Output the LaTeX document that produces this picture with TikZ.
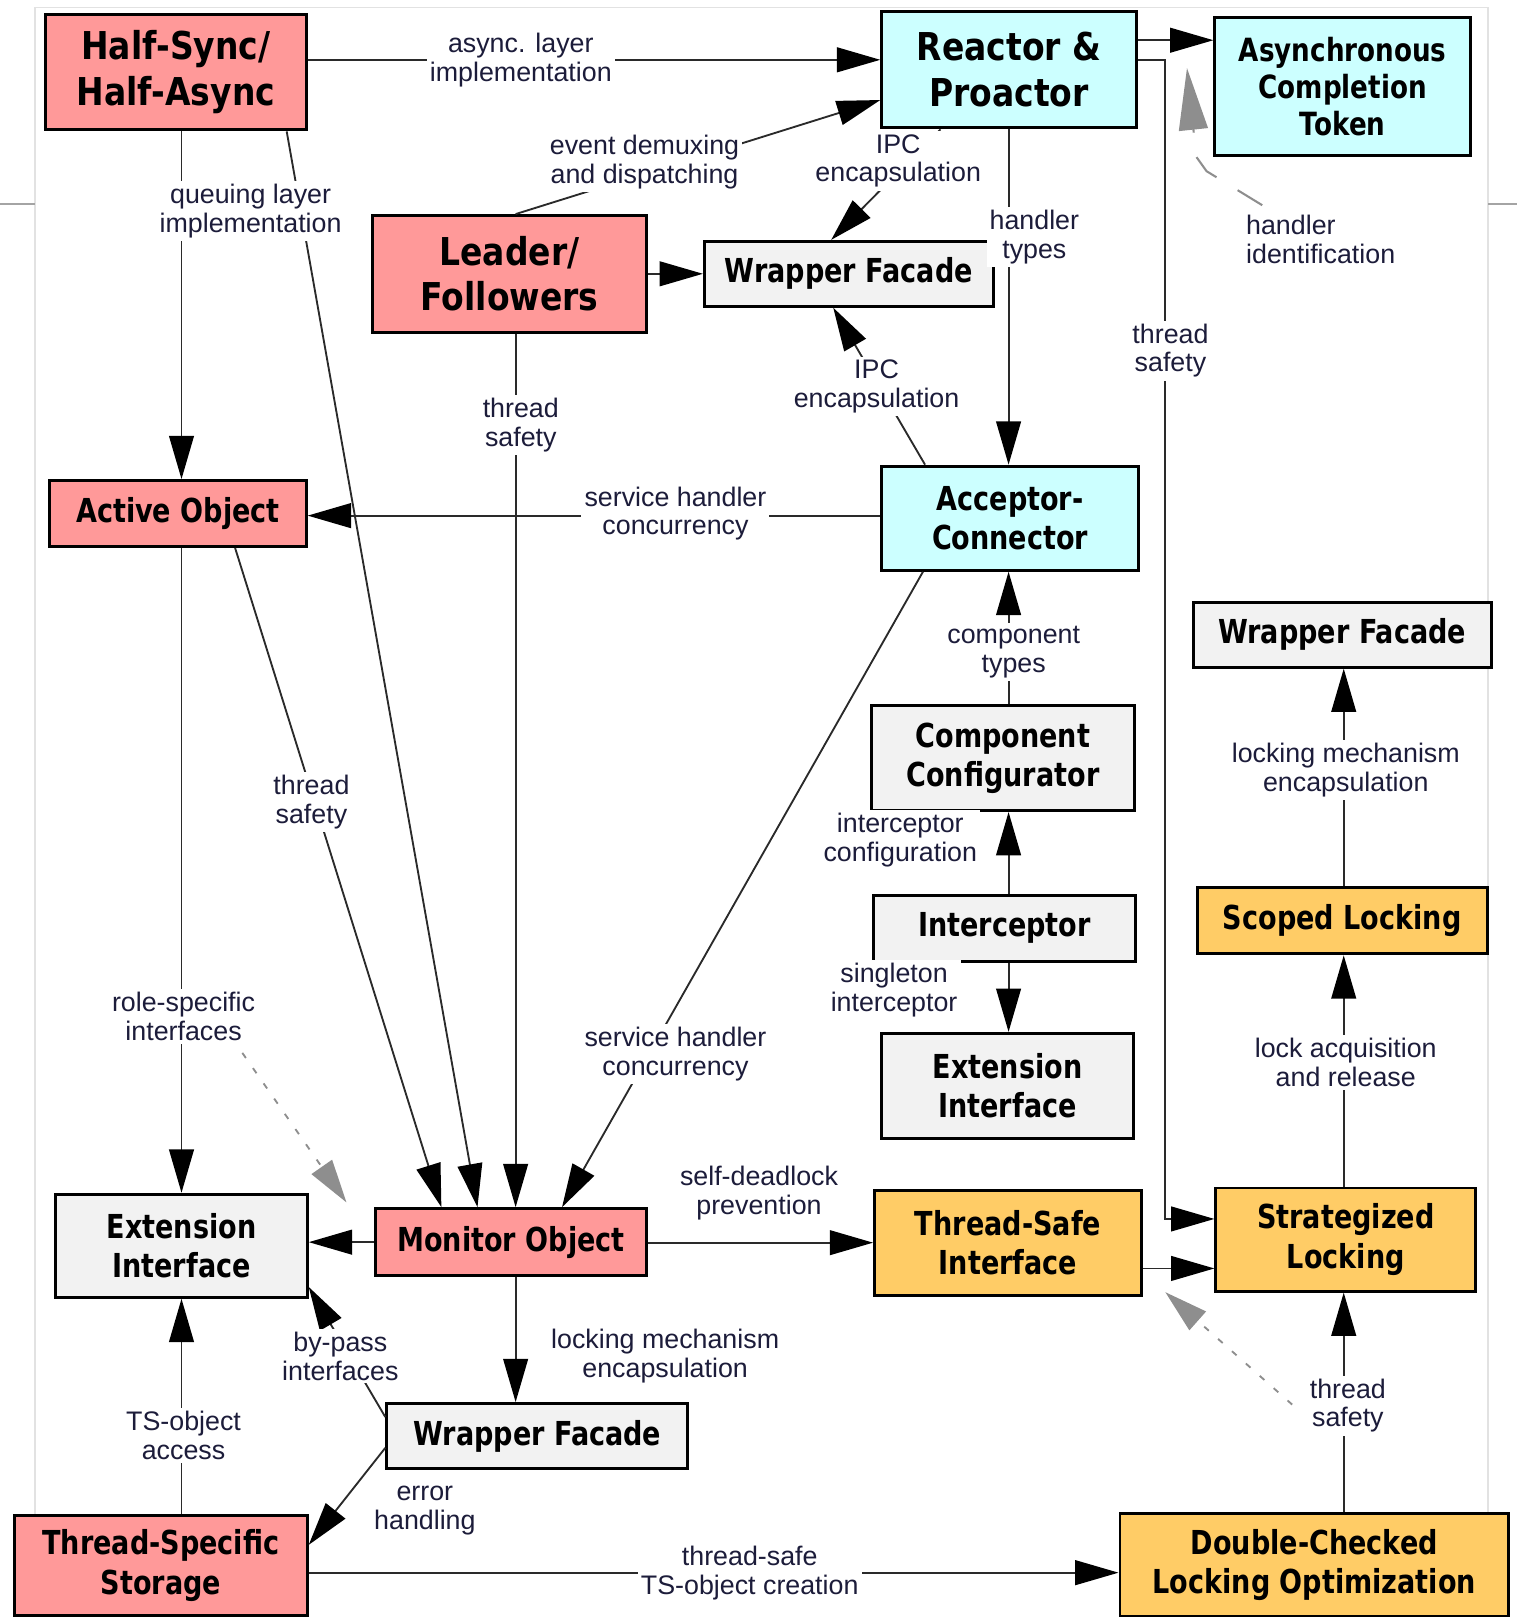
\documentclass[tikz,border=0pt]{standalone}
\usepackage{fontspec}
\setmainfont{Liberation Sans}
\newfontfamily\bigboxfont{DejaVu Sans}[FakeStretch=0.86]
\newfontfamily\boxfont{DejaVu Sans}[FakeStretch=0.82]
\usetikzlibrary{arrows.meta}

\definecolor{pinkfill}{HTML}{FF9999}
\definecolor{cyanfill}{HTML}{CCFFFF}
\definecolor{grayfill}{HTML}{F2F2F2}
\definecolor{orangefill}{HTML}{FFCC66}
\definecolor{linkcol}{HTML}{2A2A2A}
\definecolor{labelcol}{HTML}{1C1C3A}
\definecolor{hintcol}{HTML}{8E8E8E}
\definecolor{framecol}{HTML}{E2E2E2}

\tikzset{
  box/.style={draw=black, line width=1.4pt, inner sep=0pt, align=center,
    font=\boxfont\bfseries\fontsize{16}{19}\selectfont},
  bigbox/.style={box, font=\bigboxfont\bfseries\fontsize{18.6}{22}\selectfont},
  actbox/.style={box, font=\boxfont\bfseries\fontsize{15.5}{18}\selectfont},
  sz/.style 2 args={minimum width=#1pt, minimum height=#2pt},
  pink/.style={fill=pinkfill},
  cyan/.style={fill=cyanfill},
  grey/.style={fill=grayfill},
  orange/.style={fill=orangefill},
  conn/.style={draw=linkcol, line width=0.9pt,
    -{Triangle[length=21pt, width=12pt, color=black]}},
  hint/.style={draw=hintcol, line width=0.9pt,
    -{Triangle[length=21pt, width=12pt, color=hintcol]}},
  longhint/.style={draw=hintcol, line width=1pt,
    -{Triangle[length=30pt, width=14pt, color=hintcol]}},
  lbl/.style={fill=white, inner sep=1.5pt, align=center, text=labelcol,
    font=\fontsize{13}{14}\selectfont},
}

\begin{document}
\begin{tikzpicture}[x=0.5pt, y=-0.5pt]
\useasboundingbox (0,0) rectangle (1471,1568);

% page frame behind the diagram
\draw[framecol, line width=0.6pt] (34,1570) -- (34,7) -- (1443,7) -- (1443,1570);
\draw[hintcol!80, line width=0.8pt] (0,198) -- (34,198);
\draw[hintcol!80, line width=0.8pt] (1443,198) -- (1471,198);

% pattern boxes
\node[bigbox, pink, sz={126.5}{56}]   (hs)   at (170.5,70)    {Half-Sync/\\Half-Async};
\node[bigbox, cyan, sz={123.5}{56.5}] (rp)   at (978.5,67.5)  {Reactor \&\\Proactor};
\node[actbox, cyan, sz={124}{67}]     (act)  at (1302,84)     {Asynchronous\\Completion\\Token};
\node[bigbox, pink, sz={133}{56.5}]   (lf)   at (494,265.5)   {Leader/\\Followers};
\node[box, grey, sz={140}{31.5}]      (wfa)  at (823,265.5)   {Wrapper Facade};
\node[box, pink, sz={124.5}{32}]      (ao)   at (172.5,498)   {Active Object};
\node[box, cyan, sz={124.5}{50.5}]    (ac)   at (979.5,502.5) {Acceptor-\\Connector};
\node[box, grey, sz={144.5}{31.5}]    (wfb)  at (1301.5,615.5){Wrapper Facade};
\node[box, grey, sz={127.5}{51}]      (cc)   at (972.5,735)   {Component\\Configurator};
\node[box, grey, sz={127}{32}]        (ic)   at (974,900)     {Interceptor};
\node[box, orange, sz={140.5}{32}]    (sl)   at (1301.5,893)  {Scoped Locking};
\node[box, grey, sz={122}{51}]        (eia)  at (977,1053)    {Extension\\Interface};
\node[box, grey, sz={122}{50}]        (eib)  at (176,1208)    {Extension\\Interface};
\node[box, pink, sz={131.5}{32.5}]    (mo)   at (495.5,1204.5){Monitor Object};
\node[box, orange, sz={129.5}{51}]    (tsi)  at (977.5,1205)  {Thread-Safe\\Interface};
\node[box, orange, sz={126}{50}]      (stl)  at (1305,1202)   {Strategized\\Locking};
\node[box, grey, sz={146}{31.5}]      (wfc)  at (521,1392.5)  {Wrapper Facade};
\node[box, pink, sz={142}{48.5}]      (tss)  at (156,1518)    {Thread-Specific\\Storage};
\node[box, orange, sz={188.5}{49.5}]  (dclo) at (1274.5,1517.5){Double-Checked\\Locking Optimization};

% free ends of the three hint arrows
\coordinate (hidtail) at (1224,199);
\coordinate (hidtip)  at (1151,66);
\coordinate (rstail)  at (235,1021);
\coordinate (rstip)   at (336,1166);
\coordinate (tstail)  at (1253,1362);
\coordinate (tstip)   at (1130,1253);

% relationships
\draw[conn] (hs.east |- 0,58) -- (rp.west |- 0,58);
\draw[conn] (lf.north -| 500,0) -- (rp.west |- 0,97);
\draw[conn] (rp.south -| 912,0) -- (wfa.north -| 806,0);
\draw[conn] (rp.south -| 978,0) -- (ac.north -| 978,0);
\draw[conn] (rp.east |- 0,39) -- (act.west |- 0,39);
\draw[conn] (rp.east |- 0,58) -- (1130,58) -- (1130,1182) -- (stl.west |- 0,1182);
\draw[longhint, dash pattern=on 14pt off 12pt] (hidtail) -- (1170,166) -- (1160,152) -- (hidtip);
\draw[conn] (lf.east) -- (wfa.west);
\draw[conn] (lf.south -| 500,0) -- (mo.north -| 500,0);
\draw[conn] (ac.north -| 897,0) -- (wfa.south -| 808,0);
\draw[conn] (ac.west |- 0,500) -- (ao.east |- 0,500);
\draw[conn] (ac.south -| 895,0) -- (mo.north -| 545,0);
\draw[conn] (cc.north -| 978,0) -- (ac.south -| 978,0);
\draw[conn] (ic.north -| 978,0) -- (cc.south -| 978,0);
\draw[conn] (ic.south -| 978,0) -- (eia.north -| 978,0);
\draw[conn] (hs.south -| 176,0) -- (ao.north -| 176,0);
\draw[conn] (hs.south -| 278,0) -- (mo.north -| 463,0);
\draw[conn] (ao.south -| 228,0) -- (mo.north -| 428,0);
\draw[conn] (ao.south -| 176,0) -- (eib.north -| 176,0);
\draw[hint, dash pattern=on 3pt off 6pt] (rstail) -- (rstip);
\draw[conn] (mo.west) -- (eib.east |- mo.west);
\draw[conn] (mo.east |- 0,1205) -- (tsi.west |- 0,1205);
\draw[conn] (mo.south -| 500,0) -- (wfc.north -| 500,0);
\draw[conn] (wfc.west |- 0,1374) -- (eib.east |- 0,1248);
\draw[conn] (wfc.west |- 0,1404) -- (tss.east |- 0,1498);
\draw[conn] (tss.north -| 176,0) -- (eib.south -| 176,0);
\draw[conn] (tss.east |- 0,1525) -- (dclo.west |- 0,1525);
\draw[conn] (tsi.east |- 0,1230) -- (stl.west |- 0,1230);
\draw[conn] (dclo.north -| 1303,0) -- (stl.south -| 1303,0);
\draw[hint, dash pattern=on 3pt off 6pt] (tstail) -- (tstip);
\draw[conn] (stl.north -| 1303,0) -- (sl.south -| 1303,0);
\draw[conn] (sl.north -| 1303,0) -- (wfb.south -| 1303,0);

% relationship labels
\node[lbl] (l1)  at (505,58)    {async. layer\\implementation};
\node[lbl] (l2)  at (625,157)   {event demuxing\\and dispatching};
\node[lbl] (l3)  at (871,156)   {IPC\\encapsulation};
\node[lbl] (l4)  at (1003,230)  {handler\\types};
\node[lbl] (l5)  at (1135,340)  {thread\\safety};
\node[lbl, align=left, anchor=west] (l6) at (1205,232) {handler\\identification};
\node[lbl] (l7)  at (243,205)   {queuing layer\\implementation};
\node[lbl] (l8)  at (505,412)   {thread\\safety};
\node[lbl] (l9)  at (850,375)   {IPC\\encapsulation};
\node[lbl] (l10) at (655,498)   {service handler\\concurrency};
\node[lbl] (l11) at (983,632)   {component\\types};
\node[lbl] (l12) at (1305,747)  {locking mechanism\\encapsulation};
\node[lbl] (l13) at (302,778)   {thread\\safety};
\node[lbl] (l14) at (873,815)   {interceptor\\configuration};
\node[lbl] (l15) at (867,960)   {singleton\\interceptor};
\node[lbl] (l16) at (1305,1030) {lock acquisition\\and release};
\node[lbl] (l17) at (178,986)   {role-specific\\interfaces};
\node[lbl] (l18) at (655,1022)  {service handler\\concurrency};
\node[lbl] (l19) at (736,1157)  {self-deadlock\\prevention};
\node[lbl] (l20) at (330,1315)  {by-pass\\interfaces};
\node[lbl] (l21) at (645,1315)  {locking mechanism\\encapsulation};
\node[lbl] (l22) at (1307,1363) {thread\\safety};
\node[lbl] (l23) at (178,1392)  {TS-object\\access};
\node[lbl] (l24) at (412,1465)  {error\\handling};
\node[lbl] (l25) at (727,1525)  {thread-safe\\TS-object creation};
\end{tikzpicture}
\end{document}
